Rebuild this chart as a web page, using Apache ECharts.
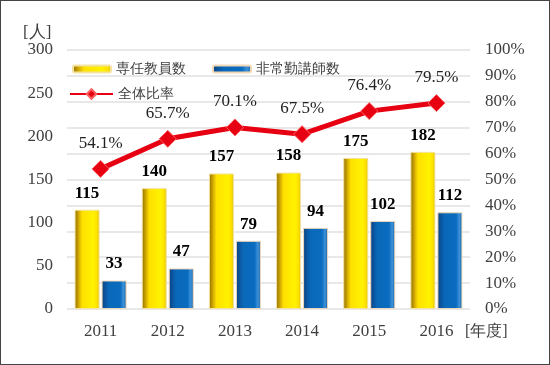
<!DOCTYPE html>
<html><head><meta charset="utf-8">
<script src="https://cdn.jsdelivr.net/npm/echarts@6/dist/echarts.min.js"></script>
<style>html,body{margin:0;padding:0;background:#fff}#c{width:548px;height:363px;border:1px solid #444}</style>
</head><body><div id="c"></div>
<script>
const years = ['2011','2012','2013','2014','2015','2016'];
const fullTime = [115,140,157,158,175,182];
const partTime = [33,47,79,94,102,112];
const ratio = [54.1,65.7,70.1,67.5,76.4,79.5];
const leftTicks = [0,50,100,150,200,250,300];

const serif = '"Liberation Serif","DejaVu Serif",serif';
const yellowGrad = new echarts.graphic.LinearGradient(0,0,1,0,[
  {offset:0,color:'#8a6a00'},{offset:0.18,color:'#d9b000'},{offset:0.3,color:'#ffe000'},
  {offset:0.75,color:'#fff200'},{offset:0.88,color:'#ffe400'},{offset:1,color:'#e0c000'}]);
const blueGrad = new echarts.graphic.LinearGradient(0,0,1,0,[
  {offset:0,color:'#0a3f7a'},{offset:0.18,color:'#0b5aa8'},{offset:0.3,color:'#0a68b8'},
  {offset:0.75,color:'#0a6cc0'},{offset:0.88,color:'#3f92d8'},{offset:1,color:'#0b5aa5'}]);
const legText = {fontFamily:serif,fontSize:14,color:'#404040'};
const chart = echarts.init(document.getElementById('c'));
chart.setOption({
  animation:false,
  backgroundColor:'#fff',
  textStyle:{fontFamily:serif},
  grid:{left:66,right:79,top:49,bottom:55},
  legend:[
    {data:['専任教員数'],left:71,top:61,padding:0,itemWidth:38,itemHeight:7,textStyle:legText},
    {data:['非常勤講師数'],left:211,top:61,padding:0,itemWidth:38,itemHeight:7,textStyle:legText},
    {data:['全体比率'],left:68,top:86,padding:0,itemWidth:43,itemHeight:12,textStyle:legText}
  ],
  xAxis:{type:'category',data:years,axisLine:{show:false},axisTick:{show:false},
    axisLabel:{fontFamily:serif,fontSize:17,color:'#404040',margin:14}},
  yAxis:[
    {type:'value',min:0,max:300,interval:50,splitLine:{show:false},
     axisLabel:{fontFamily:serif,fontSize:17,color:'#404040',margin:14,
       formatter:v=>leftTicks.includes(v)?String(v):''}},
    {type:'value',min:0,max:100,interval:10,
     splitLine:{show:true,lineStyle:{color:'#e8e8e8',width:2}},
     axisLabel:{fontFamily:serif,fontSize:17,color:'#404040',margin:15,formatter:'{value}%'}}
  ],
  graphic:[
    {type:'text',left:22,top:23,style:{text:'[人]',font:'17px '+serif,fill:'#404040'}},
    {type:'text',left:464,top:323,style:{text:'[年度]',font:'16px '+serif,fill:'#404040'}}
  ],
  series:[
    {name:'専任教員数',type:'bar',data:fullTime,barWidth:25,barGap:'8%',
     itemStyle:{color:yellowGrad,borderColor:'#f3e2a0',borderWidth:1},
     label:{show:true,position:'top',distance:8,fontFamily:serif,fontSize:17,fontWeight:'bold',color:'#000'}},
    {name:'非常勤講師数',type:'bar',data:partTime,barWidth:25,
     itemStyle:{color:blueGrad,borderColor:'#f0d8b8',borderWidth:1},
     label:{show:true,position:'top',distance:8,fontFamily:serif,fontSize:17,fontWeight:'bold',color:'#000'}},
    {name:'全体比率',type:'line',yAxisIndex:1,data:ratio,symbol:'diamond',symbolSize:17,
     lineStyle:{color:'#e60012',width:5},itemStyle:{color:'#e60012',borderColor:'#ff6060',borderWidth:1},
     label:{show:true,position:'top',distance:8,fontFamily:serif,fontSize:17,color:'#222',formatter:p=>p.value.toFixed(1)+'%'}}
  ]
});
</script></body></html>
